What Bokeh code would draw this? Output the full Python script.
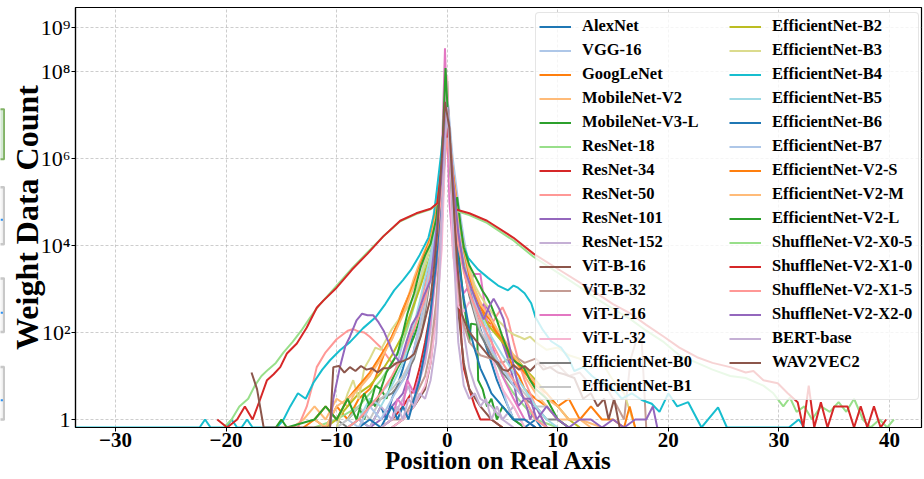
from bokeh.plotting import figure
from bokeh.layouts import row
from bokeh.models import Range1d, FixedTicker, Legend, LegendItem, ColumnDataSource
from bokeh.embed import file_html
from bokeh.resources import INLINE

# ---------------- data: (position on real axis, weight count) ----------------
ALEXNET = [(-9,0),(-8,1),(-7,0),(-6,2),(-5.5,1),(-5,3),(-4.5,6),(-4,15),(-3.5,40),(-3,120),(-2.5,400),(-2,1500),(-1.5,6000),(-1,4e4),(-0.5,5e5),(0,2e7),(0.5,6e5),(1,5e4),(1.5,8000),(2,1500),(2.5,400),(3,120),(3.5,50),(4,20),(4.5,8),(5,4),(5.5,2),(6,1),(7,0),(8,1),(8.5,0)]
VGG16 = [(-10,0),(-9,1),(-8,0),(-7,2),(-6,4),(-5,8),(-4.5,20),(-4,60),(-3.5,180),(-3,500),(-2.5,1500),(-2,5000),(-1.5,2e4),(-1,1.2e5),(-0.5,1e6),(0,3e7),(0.5,1e6),(1,1e5),(1.5,1.5e4),(2,3000),(2.5,800),(3,250),(3.5,80),(4,30),(4.5,12),(5,5),(5.5,2),(6,1),(7,1),(8,0)]
GOOGLENET = [(-12,1),(-11,0),(-10,2),(-9,1),(-8,3),(-7,5),(-6.5,9),(-6,20),(-5.5,45),(-5,80),(-4.5,160),(-4,350),(-3.5,700),(-3,1300),(-2.5,3000),(-2,6000),(-1.5,1.2e4),(-1,5e4),(-0.5,4e5),(0,1e7),(0.5,5e5),(1,3e4),(1.5,5000),(2,1500),(2.5,600),(3,350),(3.5,200),(4,150),(4.5,90),(5,60),(5.5,30),(6,15),(6.5,10),(7,5),(8,3),(9,2),(10,1),(11,0)]
MOBILENET_V2 = [(-14,0),(-13,1),(-12,2),(-11,1),(-10,3),(-9,2),(-8,6),(-7,10),(-6,30),(-5,70),(-4.5,150),(-4,300),(-3.5,700),(-3,1800),(-2.5,4000),(-2,8000),(-1.5,1.6e4),(-1,5e4),(-0.5,3e5),(0,8e6),(0.5,3e5),(1,4e4),(1.5,8000),(2,2500),(2.5,1000),(3,500),(3.5,300),(4,200),(5,70),(6,25),(7,10),(8,4),(9,2),(10,1),(12,1),(14,0)]
MOBILENET_V3_L = [(-9,1),(-8,2),(-7.5,1),(-7,3),(-6.5,2),(-6,5),(-5.5,3),(-5,8),(-4.5,15),(-4,25),(-3.5,40),(-3,80),(-2.5,200),(-2,600),(-1.5,3000),(-1,3e4),(-0.5,6e5),(0,5e6),(0.5,2e5),(1,8000),(1.5,500),(2,60),(2.15,160),(2.7,150),(2.8,8),(3.2,5),(3.6,2),(4,3),(4.5,1),(5,2),(6,1),(7,0)]
RESNET18 = [(-12,0),(-10,1),(-8,2),(-7,4),(-6,8),(-5,20),(-4,60),(-3.5,150),(-3,400),(-2.5,1200),(-2,3500),(-1.5,1e4),(-1,4e4),(-0.5,3e5),(0,2e7),(0.5,3e5),(1,4e4),(1.5,1e4),(2,3000),(2.5,900),(3,300),(3.5,100),(4,40),(5,10),(6,4),(7,2),(8,1),(10,0)]
RESNET34 = [(-6,0),(-5,1),(-4,2),(-3,5),(-2.5,15),(-2,60),(-1.5,300),(-1,3000),(-0.5,2e5),(0,3e7),(0.5,2e5),(1,2000),(1.3,60),(1.5,15),(2,5),(2.5,2),(3,1),(4,1),(5,0)]
RESNET50 = [(-13.5,0),(-12.7,2),(-12.2,6),(-11.8,16),(-11,35),(-10,70),(-9,110),(-8.5,120),(-8,105),(-7.5,100),(-7,80),(-6.5,60),(-6,45),(-5.5,30),(-5,20),(-4.5,18),(-4,25),(-3.5,60),(-3,150),(-2.5,400),(-2,1200),(-1.5,4000),(-1,2e4),(-0.5,2e5),(0,1e7),(0.5,2e5),(1,2e4),(1.5,3000),(2,800),(2.5,300),(3,150),(3.5,120),(4,150),(4.5,250),(5,380),(5.5,200),(6,60),(6.5,20),(7,8),(8,2),(9,0)]
RESNET101 = [(-7,0),(-6,1),(-5,2),(-4,4),(-3.5,10),(-3,40),(-2.5,150),(-2,600),(-1.5,2000),(-1,2e4),(-0.5,3e5),(0,2e7),(0.5,3e5),(1,2e4),(1.5,3000),(2,900),(2.5,500),(3,350),(3.4,470),(3.8,300),(4.2,150),(4.8,80),(5.5,25),(6,8),(6.4,2),(7,3),(7.5,1),(8,2),(9,0)]
RESNET152 = [(-8,1),(-7,0),(-6,2),(-5,1),(-4,3),(-3.5,6),(-3,2),(-2.5,8),(-2,20),(-1.5,120),(-1,3000),(-0.5,4e5),(0,3e7),(0.5,4e5),(1,3000),(1.5,100),(2,15),(2.5,6),(3,3),(4,2),(5,1),(6,2),(7,0)]
VIT_B_16 = [(-5,0),(-4,1),(-3,2),(-2,5),(-1.5,20),(-1,300),(-0.5,2e4),(-0.2,2e6),(0,6e7),(0.2,2e6),(0.5,2e4),(1,300),(1.5,20),(2,5),(3,2),(4,1),(5,0)]
VIT_B_32 = [(-6,0),(-5,1),(-4,1),(-3,3),(-2,10),(-1.5,40),(-1,500),(-0.5,4e4),(0,2e7),(0.5,4e4),(1,800),(1.5,150),(2,60),(3,30),(4,25),(5,20),(6,30),(7,20),(8,25),(9,15),(10,18),(11,10),(12,12),(13,6),(14,8),(15,3),(16,1),(16.6,25),(17.2,80),(17.6,60),(18,0)]
VIT_L_16 = [(-6,0),(-5,1),(-4.5,3),(-4,2),(-3.6,8),(-3,4),(-2.5,10),(-2,30),(-1.5,200),(-1,3000),(-0.6,1e5),(-0.2,3.4e8),(0.2,1e5),(0.6,5000),(1,1500),(1.5,800),(2,1200),(2.4,2200),(3,2200),(3.6,190),(4.2,40),(5,10),(6,3),(7,1),(8,0)]
VIT_L_32 = [(-5,0),(-4,1),(-3,2),(-2,6),(-1.5,20),(-1,200),(-0.5,8000),(-0.25,5e5),(0,8e7),(0.25,5e5),(0.5,8000),(1,400),(1.5,300),(2,500),(2.5,400),(3,200),(3.5,80),(4,30),(5,5),(6,2),(7,0)]
EFFNET_B0 = [(-10,1),(-9,0),(-8,1),(-7,2),(-6,3),(-5,4),(-4,8),(-3,25),(-2.5,70),(-2,300),(-1.5,2000),(-1,2e4),(-0.5,4e5),(0,2e7),(0.5,4e5),(1,2e4),(1.5,3000),(2,700),(2.5,250),(3,90),(4,30),(5,12),(6,6),(7,3),(8,2),(9,1),(10,1),(11,0)]
EFFNET_B1 = [(-10,0),(-9,1),(-8,2),(-7,1),(-6,3),(-5,5),(-4,10),(-3,30),(-2.5,90),(-2,400),(-1.5,2500),(-1,3e4),(-0.5,5e5),(0,2.5e7),(0.5,5e5),(1,3e4),(1.5,4000),(2,900),(2.5,300),(3,110),(4,40),(5,15),(6,8),(7,4),(8,2),(9,2),(10,1),(11,0)]
EFFNET_B2 = [(-11,0),(-10,1),(-9,2),(-8,4),(-7,6),(-6,12),(-5,30),(-4,90),(-3.5,200),(-3,450),(-2.5,1000),(-2,2500),(-1.5,6000),(-1,2e4),(-0.5,2e5),(0,1e7),(0.5,2e5),(1,2e4),(1.5,5000),(2,1500),(2.5,600),(3,300),(3.5,180),(4,120),(5,60),(6,30),(7,15),(8,8),(9,4),(10,2),(11,1),(12,0)]
EFFNET_B3 = [(-10,0),(-9,4),(-8.5,8),(-8,3),(-7.5,15),(-7,25),(-6.5,45),(-6,40),(-5.5,70),(-5,120),(-4.5,180),(-4,270),(-3.5,400),(-3,700),(-2.5,1500),(-2,4000),(-1.5,1e4),(-1,4e4),(-0.5,3e5),(0,1.2e7),(0.5,3e5),(1,4e4),(1.5,1e4),(2,3000),(2.5,1200),(3,700),(3.5,450),(4,300),(4.5,200),(5,150),(5.5,110),(6,90),(6.5,80),(7,70),(7.5,80),(8,60),(9,40),(10,45),(11,30),(12,25),(13,15),(14,20),(15,8),(16,4),(17,0)]
EFFNET_B4 = [(-33.7,0),(-22.4,0),(-21.9,1),(-21.4,0),(-20,0),(-19.5,1),(-19,0),(-18.6,0),(-18.1,1),(-17.6,0),(-15.4,0),(-14.8,1),(-14.2,2),(-13.5,4),(-12.8,3),(-12.1,7),(-11.3,14),(-10.6,23),(-9.7,39),(-8.8,60),(-7.6,126),(-6.5,220),(-5.6,450),(-4.8,930),(-4,1600),(-3.3,2700),(-2.5,6000),(-1.7,1.5e4),(-1.2,5e4),(-0.6,1e6),(-0.2,1e7),(0,1.2e7),(0.3,1e6),(0.7,1e5),(1.2,1.5e4),(1.9,5200),(2.8,2800),(3.7,1800),(4.6,1200),(5.5,930),(6,1200),(6.4,1070),(7,800),(7.6,470),(8,220),(8.6,120),(9.4,63),(10.3,45),(11,25),(11.5,13),(12.3,16),(13.1,10),(13.9,7),(14.9,5.5),(15.8,3),(16.7,4),(17.6,2.8),(18.5,2.3),(19.2,1.5),(20,4),(20.8,2),(21.8,2.5),(23,0),(24.5,1.9),(25.3,0),(30.9,0),(31.8,1),(32.3,0)]
EFFNET_B5 = [(-9,0),(-8,1),(-7,3),(-6,2),(-5,6),(-4,20),(-3.5,50),(-3,150),(-2.5,500),(-2,1800),(-1.5,6000),(-1,3e4),(-0.5,4e5),(0,1.5e7),(0.5,4e5),(1,3e4),(1.5,7000),(2,2000),(2.5,700),(3,300),(3.5,150),(4,80),(5,30),(6,12),(7,5),(8,2),(9,1),(10,0)]
EFFNET_B6 = [(-8,0),(-7,1),(-6,0),(-5,2),(-4.5,1),(-4,2),(-3.5,1),(-3,3),(-2.5,8),(-2,40),(-1.5,300),(-1,4000),(-0.5,2e5),(0,1.8e7),(0.5,2e5),(1,5000),(1.5,600),(2,120),(2.5,40),(3,15),(3.5,8),(4,4),(5,2),(6,1),(7,1),(8,0)]
EFFNET_B7 = [(-8,0),(-7,2),(-6,1),(-5,3),(-4,8),(-3.5,15),(-3,40),(-2.5,150),(-2,700),(-1.5,4000),(-1,3e4),(-0.5,4e5),(0,2e7),(0.5,4e5),(1,3e4),(1.5,6000),(2,1500),(2.5,500),(3,200),(3.5,90),(4,40),(5,15),(6,6),(7,3),(8,1),(9,0)]
EFFNET_V2_S = [(-13,0),(-12,1),(-11,2),(-10,1),(-9,3),(-8,6),(-7,12),(-6,30),(-5,80),(-4.5,150),(-4,300),(-3.5,650),(-3,1400),(-2.5,3200),(-2,7000),(-1.5,1.5e4),(-1,6e4),(-0.5,5e5),(0,1.2e7),(0.5,5e5),(1,6e4),(1.5,8000),(2,2000),(2.5,800),(3,400),(3.5,250),(4,180),(4.5,100),(5,70),(5.5,40),(6,25),(7,12),(8,6),(9,4),(10,2),(11,3),(12,1),(13,2),(14,1),(15,1),(16,0),(16.5,2),(17,0)]
EFFNET_V2_M = [(-12,1),(-11,0),(-10,2),(-9,3),(-8,5),(-7,10),(-6,25),(-5,70),(-4,250),(-3.5,550),(-3,1200),(-2.5,2800),(-2,6000),(-1.5,1.3e4),(-1,5e4),(-0.5,4e5),(0,1e7),(0.5,4e5),(1,5e4),(1.5,9000),(2,2500),(2.5,900),(3,450),(3.5,300),(4,200),(4.5,120),(5,80),(5.5,50),(6,30),(7,14),(8,7),(9,3),(10,2),(11,1),(12,1),(13,0)]
EFFNET_V2_L = [(-15.5,0),(-15,1),(-14.5,0),(-12,1),(-11,2),(-10,1),(-9,3),(-8.2,1),(-7.5,4),(-7,2),(-6.5,6),(-6,5),(-5.5,12),(-5,20),(-4.5,32),(-4,100),(-3.6,270),(-3,800),(-2.4,3200),(-2,6000),(-1.5,1.1e4),(-1,4e4),(-0.5,6e5),(-0.15,1.2e8),(0,2e7),(0.3,5e5),(0.6,3e4),(0.9,1.3e5),(1.2,3e4),(1.5,9000),(2,3500),(2.7,1600),(3.2,900),(3.6,630),(4,400),(4.5,190),(5,80),(5.7,27),(6.3,20),(6.9,16),(7.5,8),(8,5),(9,3),(10,1),(11,0)]
SHUFFLENET_X0_5 = [(-20.2,0),(-19.5,1),(-18.8,2),(-18,3),(-17.4,6),(-16.8,10),(-16.2,14),(-15.5,20),(-14.8,35),(-14,60),(-13.2,110),(-12.4,220),(-11.6,420),(-10.8,700),(-10,1200),(-8.6,3000),(-7.2,7000),(-5.8,1.6e4),(-4.25,3.6e4),(-2.8,5.3e4),(-1.5,6.8e4),(-0.9,9e4),(-0.4,8e5),(0,4e6),(0.3,8e5),(0.55,6.5e4),(2,5e4),(3.6,3.3e4),(6,1.3e4),(7.8,5500),(10.2,2200),(12,1100),(13.5,600),(15,350),(16.6,200),(18,110),(19.6,60),(21,30),(22.6,20),(24,14),(25.6,10),(27,9),(28.6,6),(29.5,4),(30.4,2),(31,3.2),(31.6,1.5),(32.3,2),(33,1),(33.8,2),(34.6,1.5),(35.4,2.5),(36.1,1.5),(36.8,3),(37.6,1),(38.3,0),(39.1,1),(39.8,0),(40.4,1)]
SHUFFLENET_X1_0 = [(-20.8,1),(-19.9,0),(-19,1),(-18.3,2),(-17.6,1),(-16.9,3),(-16.3,8),(-15.7,11),(-15.1,16),(-14.5,33),(-13.6,56),(-12.7,130),(-11.8,370),(-11.2,540),(-10,1070),(-8.6,2800),(-7.2,6500),(-5.8,1.6e4),(-4.25,3.7e4),(-2.8,5.5e4),(-1.5,7e4),(-0.9,9.3e4),(-0.4,1e6),(0,5e6),(0.3,1e6),(0.55,7e4),(2,5.5e4),(3.6,3.7e4),(6,1.5e4),(7.8,6500),(10.2,2700),(12,1400),(13.5,800),(15,450),(16.6,270),(18,150),(19.6,80),(21,45),(22.6,27),(24,20),(25.6,16),(27,12),(27.7,13),(28.6,8),(29.9,6.8),(30.8,4),(31.7,2.5),(32.2,0),(32.7,6),(33.2,0),(33.8,2.5),(34.4,0),(35,2),(35.6,2),(36.2,2),(36.8,0),(37.4,2),(38,0),(38.6,2),(39.2,0),(39.7,1)]
SHUFFLENET_X1_5 = [(-9,0),(-8,1),(-7,2),(-6,4),(-5,10),(-4,30),(-3,120),(-2,600),(-1.5,2000),(-1,1e4),(-0.5,2e5),(0,3e6),(0.5,2e5),(1,1e4),(1.5,2500),(2,800),(3,200),(4,60),(5,20),(6,8),(7,3),(8,1),(9,0)]
SHUFFLENET_X2_0 = [(-10.6,0),(-10.3,3),(-9.7,16),(-9.2,50),(-8.8,80),(-8.2,190),(-7.7,270),(-7.2,250),(-6.7,250),(-6.2,170),(-5.75,110),(-5.3,60),(-4.85,32),(-4.25,20),(-3.7,60),(-3.2,150),(-2.7,250),(-2.1,700),(-1.5,1600),(-1,2e4),(-0.5,4e5),(0,1.5e7),(0.5,4e5),(1,2e4),(1.5,3200),(2.2,1000),(2.8,400),(3.3,200),(3.8,400),(4.2,600),(4.7,350),(5.1,200),(5.7,40),(6.3,8),(6.9,3),(7.5,3),(8.1,1),(9,2),(10,1),(11,0),(12,1),(13,1),(14,0),(15,1),(16,0),(17,1),(18,1),(18.6,2),(19,0)]
BERT_BASE = [(-6,0),(-5,1),(-4.5,2),(-4,1),(-3.5,3),(-3,2),(-2.5,4),(-2,3),(-1.5,8),(-1,60),(-0.7,2000),(-0.4,2e5),(0,1.5e7),(0.4,2e5),(0.7,2000),(1,60),(1.5,6),(2,3),(2.5,4),(3,2),(3.5,3),(4,1),(4.5,2),(5,1),(6,0)]
WAV2VEC2 = [(-17.7,12),(-17.2,5),(-16.6,0),(-10.6,0),(-10.3,16),(-9.8,17),(-9.3,12),(-8.8,16),(-8.3,13),(-7.8,17),(-7.3,14),(-6.8,15),(-6.3,12),(-5.8,15),(-5.2,15),(-4.6,20),(-4,22),(-3.5,25),(-3,32),(-2.4,80),(-2,200),(-1.5,630),(-1.2,3000),(-0.9,2e4),(-0.5,1e6),(-0.2,2e7),(0.2,5e6),(0.5,2e5),(0.9,4000),(1.3,270),(1.9,110),(2.5,70),(3.1,46),(3.8,28),(4.6,20),(5,14),(5.5,13),(6,18),(6.5,14),(7,17),(7.5,13),(8.2,20),(8.7,14),(9.3,16),(10,12),(10.6,11),(11.5,9),(12.3,3),(13,4),(13.6,2),(14.2,3),(14.6,1),(15.1,3),(15.6,0)]

NAMES = ["AlexNet", "VGG-16", "GoogLeNet", "MobileNet-V2", "MobileNet-V3-L", "ResNet-18",
         "ResNet-34", "ResNet-50", "ResNet-101", "ResNet-152", "ViT-B-16", "ViT-B-32",
         "ViT-L-16", "ViT-L-32", "EfficientNet-B0", "EfficientNet-B1", "EfficientNet-B2",
         "EfficientNet-B3", "EfficientNet-B4", "EfficientNet-B5", "EfficientNet-B6",
         "EfficientNet-B7", "EfficientNet-V2-S", "EfficientNet-V2-M", "EfficientNet-V2-L",
         "ShuffleNet-V2-X0-5", "ShuffleNet-V2-X1-0", "ShuffleNet-V2-X1-5", "ShuffleNet-V2-X2-0",
         "BERT-base", "WAV2VEC2"]
SERIES = [ALEXNET, VGG16, GOOGLENET, MOBILENET_V2, MOBILENET_V3_L, RESNET18, RESNET34, RESNET50,
          RESNET101, RESNET152, VIT_B_16, VIT_B_32, VIT_L_16, VIT_L_32, EFFNET_B0, EFFNET_B1,
          EFFNET_B2, EFFNET_B3, EFFNET_B4, EFFNET_B5, EFFNET_B6, EFFNET_B7, EFFNET_V2_S,
          EFFNET_V2_M, EFFNET_V2_L, SHUFFLENET_X0_5, SHUFFLENET_X1_0, SHUFFLENET_X1_5,
          SHUFFLENET_X2_0, BERT_BASE, WAV2VEC2]
TAB20 = ["#1f77b4", "#aec7e8", "#ff7f0e", "#ffbb78", "#2ca02c", "#98df8a", "#d62728", "#ff9896",
         "#9467bd", "#c5b0d5", "#8c564b", "#c49c94", "#e377c2", "#f7b6d2", "#7f7f7f", "#c7c7c7",
         "#bcbd22", "#dbdb8d", "#17becf", "#9edae5"]

X_TICKS = [-30, -20, -10, 0, 10, 20, 30, 40]
X_TICK_LABELS = ["\u221230", "\u221220", "\u221210", "0", "10", "20", "30", "40"]
Y_TICKS = [1, 100, 10000, 1000000, 100000000, 1000000000]
Y_TICK_LABELS = ["1", "10\u00b2", "10\u2074", "10\u2076", "10\u2078", "10\u2079"]

# cropped neighbour-panel slivers at the very left edge of the picture (top, bottom)
EDGE_GREEN_BOX = (116, 173)
EDGE_GRAY_BOXES = [(205, 270), (309, 370), (410, 470)]
EDGE_BLUE_Y = [242, 348, 448]

Y_START = 10 ** -0.184
Y_END = 10 ** 9.471
SERIF = "Liberation Serif"
EDGE_W = 5

# ---------------- left sliver panel ----------------
edge = figure(width=EDGE_W, height=479, x_range=Range1d(0, EDGE_W), y_range=Range1d(479, 0),
              output_backend="svg", toolbar_location=None, title=None,
              x_axis_location=None, y_axis_location=None,
              min_border_left=0, min_border_right=0, min_border_top=0, min_border_bottom=0)
edge.grid.visible = False
edge.outline_line_color = None
edge.background_fill_color = "white"
edge.border_fill_color = "white"
edge.quad(left=-5, right=3.6, top=EDGE_GREEN_BOX[0], bottom=EDGE_GREEN_BOX[1],
          fill_color="#d5e8d4", line_color="#82b366", line_width=2)
for (t, b), by in zip(EDGE_GRAY_BOXES, EDGE_BLUE_Y):
    edge.quad(left=-5, right=3.6, top=t, bottom=b, fill_color="#f5f5f5",
              line_color="#c8c8c8", line_width=2.5)
    edge.line(x=[0, 2.4], y=[by, by], line_color="#2b8ff0", line_width=2)

# ---------------- main chart ----------------
p = figure(width=924 - EDGE_W, height=479, x_range=Range1d(-33.62, 42.9),
           y_range=Range1d(Y_START, Y_END),
           y_axis_type="log", output_backend="svg", toolbar_location=None,
           min_border_left=69, min_border_right=3, min_border_top=7, min_border_bottom=52)
p.background_fill_color = "white"
p.border_fill_color = "white"
p.outline_line_color = "black"
p.outline_line_width = 1.2

items = []
for i, (name, data) in enumerate(zip(NAMES, SERIES)):
    xs = [d[0] for d in data]
    ys = [d[1] if d[1] > 0 else Y_START for d in data]
    src = ColumnDataSource(data=dict(x=xs, y=ys))
    r = p.line("x", "y", source=src, line_color=TAB20[i % 20], line_width=2)
    items.append(LegendItem(label=name, renderers=[r]))

p.xaxis.ticker = FixedTicker(ticks=X_TICKS, minor_ticks=[])
p.xaxis.major_label_overrides = {t: l for t, l in zip(X_TICKS, X_TICK_LABELS)}
p.yaxis.ticker = FixedTicker(ticks=Y_TICKS, minor_ticks=[])
p.yaxis.major_label_overrides = {t: l for t, l in zip(Y_TICKS, Y_TICK_LABELS)}

for ax in (p.xaxis, p.yaxis):
    ax.axis_line_color = "black"
    ax.axis_line_width = 1.2
    ax.major_tick_line_color = "black"
    ax.major_tick_in = 0
    ax.major_tick_out = 4
    ax.minor_tick_line_color = None
    ax.major_label_text_font = SERIF
    ax.major_label_text_color = "black"
    ax.axis_label_text_font = SERIF
    ax.axis_label_text_font_style = "bold"
    ax.axis_label_text_color = "black"

p.xaxis.major_label_standoff = 1
p.yaxis.major_label_standoff = 1
p.xaxis.major_label_text_font_size = "21px"
p.xaxis.major_label_text_font_style = "bold"
p.yaxis.major_label_text_font_size = "22px"
p.xaxis.axis_label = "Position on Real Axis"
p.xaxis.axis_label_text_font_size = "25px"
p.xaxis.axis_label_standoff = -3
p.yaxis.axis_label = "Weight Data Count"
p.yaxis.axis_label_text_font_size = "32px"
p.yaxis.axis_label_standoff = -7

p.grid.grid_line_color = "#b0b0b0"
p.grid.grid_line_alpha = 0.8
p.grid.grid_line_width = 0.8
p.grid.grid_line_dash = "3 2"

legend = Legend(items=items, ncols=2, location=(460, 27))
legend.label_text_font = SERIF
legend.label_text_font_style = "bold"
legend.label_text_font_size = "16.5px"
legend.label_text_color = "black"
legend.glyph_width = 32
legend.glyph_height = 19
legend.label_height = 19
legend.label_width = 143
legend.label_standoff = 11
legend.spacing = 4
legend.padding = 3
legend.margin = 0
legend.background_fill_color = "white"
legend.background_fill_alpha = 0.8
legend.border_line_color = "#cccccc"
legend.border_line_width = 1
try:
    legend.border_radius = 4
except Exception:
    pass
p.add_layout(legend, "center")

layout = row(edge, p, spacing=0)
open("out.html", "w").write(file_html(layout, INLINE))
